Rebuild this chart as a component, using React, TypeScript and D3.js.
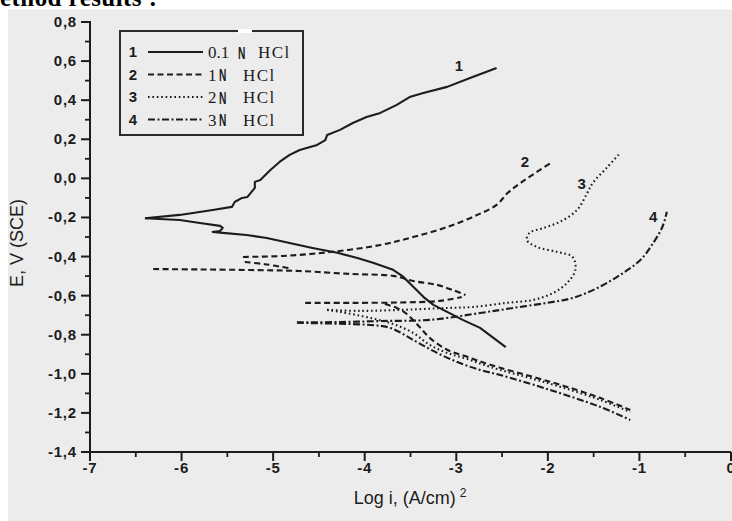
import React from "react";
import * as d3 from "d3";

const W = 732;
const H = 521;

// tick values
const xMajor = [-7, -6, -5, -4, -3, -2, -1, 0];
const yMajor = [0.8, 0.6, 0.4, 0.2, 0, -0.2, -0.4, -0.6, -0.8, -1.0, -1.2, -1.4];

// curve 1, 0.1 N HCl  [log i, E]
const c1Anodic: [number, number][] = [
  [-6.40, -0.204], [-6.02, -0.187], [-5.66, -0.162], [-5.45, -0.146], [-5.42, -0.121],
  [-5.34, -0.100], [-5.28, -0.095], [-5.20, -0.049], [-5.20, -0.018], [-5.14, -0.008],
  [-5.03, 0.043], [-4.93, 0.084], [-4.82, 0.120], [-4.71, 0.145], [-4.52, 0.171],
  [-4.43, 0.196], [-4.41, 0.222], [-4.27, 0.248], [-4.13, 0.283], [-3.98, 0.314],
  [-3.83, 0.335], [-3.65, 0.376], [-3.51, 0.416], [-3.36, 0.437], [-3.10, 0.468],
  [-2.85, 0.514], [-2.56, 0.565],
];
const c1Cathodic: [number, number][] = [
  [-6.40, -0.204], [-6.02, -0.213], [-5.80, -0.228], [-5.58, -0.243], [-5.55, -0.253],
  [-5.58, -0.269], [-5.66, -0.274], [-5.55, -0.279], [-5.29, -0.290], [-5.07, -0.305],
  [-4.82, -0.331], [-4.57, -0.356], [-4.30, -0.381], [-4.08, -0.407], [-3.91, -0.432],
  [-3.69, -0.468], [-3.58, -0.503], [-3.47, -0.555], [-3.36, -0.606], [-3.25, -0.647],
  [-3.10, -0.683], [-2.93, -0.724], [-2.74, -0.765], [-2.46, -0.863],
];

// curve 2, 1 N HCl
const c2Upper: [number, number][] = [
  [-5.33, -0.402], [-4.89, -0.397], [-4.38, -0.377], [-3.83, -0.341], [-3.47, -0.300],
  [-3.10, -0.249], [-2.77, -0.187], [-2.56, -0.136], [-2.44, -0.075], [-2.30, -0.024],
  [-2.12, 0.033], [-1.95, 0.084],
];
const c2Middle: [number, number][] = [
  [-5.31, -0.428], [-5.09, -0.439], [-4.82, -0.460],
];
const c2Lower: [number, number][] = [
  [-6.31, -0.464], [-5.80, -0.466], [-5.25, -0.469], [-4.71, -0.474], [-4.16, -0.489],
  [-3.69, -0.499], [-3.47, -0.525], [-3.21, -0.545], [-3.04, -0.571], [-2.90, -0.597],
];
const c2Flat: [number, number][] = [
  [-4.65, -0.637], [-4.16, -0.637], [-3.61, -0.635], [-3.18, -0.627], [-2.94, -0.607],
];
const c2Cathodic: [number, number][] = [
  [-3.78, -0.643], [-3.65, -0.663], [-3.54, -0.694], [-3.40, -0.760], [-3.29, -0.816],
  [-3.10, -0.877], [-2.88, -0.913], [-2.63, -0.954], [-2.16, -1.016], [-1.79, -1.067],
  [-1.43, -1.123], [-1.10, -1.185],
];

// curve 3, 2 N HCl
const c3Anodic: [number, number][] = [
  [-4.41, -0.673], [-4.05, -0.678], [-3.61, -0.673], [-3.10, -0.663], [-2.82, -0.658],
  [-2.45, -0.637], [-2.16, -0.622], [-1.94, -0.586], [-1.79, -0.535], [-1.70, -0.469],
  [-1.73, -0.402], [-1.90, -0.376], [-2.12, -0.351], [-2.23, -0.315], [-2.20, -0.279],
  [-2.05, -0.254], [-1.87, -0.223], [-1.68, -0.161], [-1.57, -0.075], [-1.51, -0.024],
  [-1.35, 0.058], [-1.21, 0.130],
];
const c3Cathodic: [number, number][] = [
  [-4.41, -0.673], [-4.27, -0.683], [-3.94, -0.714], [-3.69, -0.745], [-3.47, -0.791],
  [-3.29, -0.852], [-3.10, -0.893], [-2.88, -0.924], [-2.63, -0.965], [-2.16, -1.026],
  [-1.79, -1.077], [-1.43, -1.133], [-1.10, -1.195],
];

// curve 4, 3 N HCl
const c4Anodic: [number, number][] = [
  [-4.74, -0.737], [-4.27, -0.735], [-3.83, -0.730], [-3.29, -0.724], [-2.74, -0.689],
  [-2.38, -0.663], [-2.01, -0.637], [-1.73, -0.612], [-1.46, -0.561], [-1.21, -0.494],
  [-0.99, -0.418], [-0.85, -0.331], [-0.75, -0.249], [-0.70, -0.171],
];
const c4Cathodic: [number, number][] = [
  [-4.74, -0.739], [-4.27, -0.744], [-3.94, -0.750], [-3.72, -0.765], [-3.47, -0.827],
  [-3.21, -0.893], [-2.96, -0.945], [-2.74, -0.980], [-2.52, -1.006], [-1.98, -1.082],
  [-1.43, -1.169], [-1.10, -1.236],
];

const legendNums = ["1", "2", "3", "4"];
const legendConc = ["0.1", "1", "2", "3"];
// curve number labels near the curve ends (label centres)
const curveLabelPos: [number, number][] = [[-2.97, 0.575], [-2.25, 0.084], [-1.63, -0.03], [-0.85, -0.198]];

const series = [
  { id: 1, dash: "none", segments: [c1Anodic, c1Cathodic] },
  { id: 2, dash: "6 3.5", segments: [c2Upper, c2Middle, c2Lower, c2Flat, c2Cathodic] },
  { id: 3, dash: "1.6 2.8", segments: [c3Anodic, c3Cathodic] },
  { id: 4, dash: "7 2.5 2 2.5", segments: [c4Anodic, c4Cathodic] },
];

const fmtY = (v: number) => d3.format(".1f")(v).replace("−", "-").replace(".", ",");
const fmtX = (v: number) => d3.format("d")(v).replace("−", "-");

export default function App() {
  const x = d3.scaleLinear().domain([-7, 0]).range([90, 731]);
  const y = d3.scaleLinear().domain([-1.4, 0.8]).range([452, 22]);
  const line = d3.line<[number, number]>().x(d => x(d[0])).y(d => y(d[1])).curve(d3.curveCatmullRom);
  const jagged = d3.line<[number, number]>().x(d => x(d[0])).y(d => y(d[1]));

  const xMinor = x.ticks(14);
  const yMinor = y.ticks(22);
  const ink = "#1c1c1c";
  const sans = "'Liberation Sans', Arial, sans-serif";
  const serif = "'Liberation Serif', 'Times New Roman', serif";

  return (
    <svg width={W} height={H} style={{ position: "fixed", left: 0, top: 0 }}>
      <rect x={0} y={0} width={W} height={H} fill="#fff" />
      <rect x={8} y={9.5} width={W - 8} height={H - 9.5} fill="#ececec" />
      <text x={0} y={6} fontFamily={serif} fontWeight="bold"
        fontSize={25} textLength={157} fill="#000">ethod results :</text>

      {/* curves */}
      {series.map(s => s.segments.map((seg, i) => (
        <path key={`${s.id}-${i}`} d={(s.id === 1 ? jagged : line)(seg) || ""} fill="none" stroke={ink}
          strokeWidth={2.1} strokeDasharray={s.dash} strokeLinejoin="round" />
      )))}
      {curveLabelPos.map((p, i) => (
        <text key={i} x={x(p[0])} y={y(p[1]) + 5} fontFamily={sans} fontWeight="bold" fontSize={15}
          textAnchor="middle" fill={ink}>{legendNums[i]}</text>
      ))}

      {/* axes */}
      <g stroke={ink} strokeWidth={2}>
        <line x1={90} y1={21} x2={90} y2={453} />
        <line x1={89} y1={452} x2={731} y2={452} />
        {yMinor.map(v => {
          const major = Math.abs(Math.round(v * 10)) % 2 === 0;
          return <line key={v} x1={major ? 81 : 85} x2={90} y1={y(v)} y2={y(v)} strokeWidth={major ? 2 : 1.8} />;
        })}
        {xMinor.map(v => {
          const major = Number.isInteger(v);
          return <line key={v} x1={x(v)} x2={x(v)} y1={452} y2={major ? 461 : 457} strokeWidth={major ? 2 : 1.8} />;
        })}
      </g>
      {yMajor.map(v => (
        <text key={v} x={77} y={y(v) + 5} textAnchor="end" fontFamily={sans} fontWeight="bold"
          fontSize={15} letterSpacing={0.8} fill={ink}>{fmtY(v)}</text>
      ))}
      {xMajor.map(v => (
        <text key={v} x={x(v)} y={473} textAnchor="middle" fontFamily={sans} fontWeight="bold"
          fontSize={15} letterSpacing={0.8} fill={ink}>{fmtX(v)}</text>
      ))}
      <text transform="translate(23,243) rotate(-90)" textAnchor="middle" fontFamily={sans}
        fontSize={18} fill={ink}>E, V (SCE)</text>
      <text x={410} y={504} textAnchor="middle" fontFamily={sans} fontSize={18} fill={ink}>
        Log i, (A/cm)<tspan dx={4} dy={-7} fontSize={12}>2</tspan>
      </text>

      {/* legend */}
      <rect x={120} y={31} width={183} height={104} fill="none" stroke="#2a2a2a" strokeWidth={2} />
      <rect x={238} y={29} width={14} height={4} fill="#fff" />
      {series.map((s, i) => {
        const cy = 52 + i * 22.5;
        const first = i === 0;
        return (
          <g key={s.id}>
            <text x={133} y={cy + 5} textAnchor="middle" fontFamily={sans} fontWeight="bold" fontSize={15}
              fill={ink}>{legendNums[i]}</text>
            <line x1={148} x2={203} y1={cy} y2={cy} stroke={ink} strokeWidth={2} strokeDasharray={s.dash} />
            <text x={208} y={cy + 6} fontFamily={serif} fontSize={17} fill={ink}>{legendConc[i]}</text>
            <text x={first ? 238 : 219} y={cy + 7} fontFamily={sans} fontWeight="bold"
              fontSize={17} fill={ink} transform={`translate(${first ? 238 : 219},0) scale(0.6,1) translate(${-(first ? 238 : 219)},0)`}>N</text>
            <text x={first ? 258 : 243} y={cy + 6} fontFamily={serif} fontSize={17}
              letterSpacing={1.5} fill={ink}>HCl</text>
          </g>
        );
      })}
    </svg>
  );
}
